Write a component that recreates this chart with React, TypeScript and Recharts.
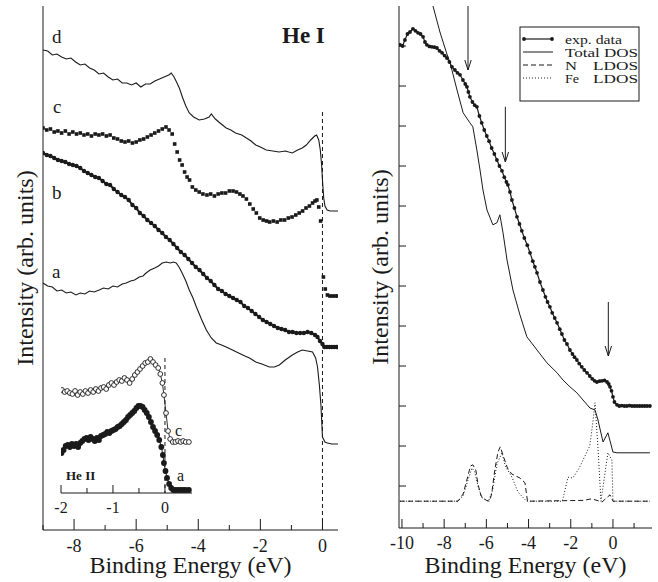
import { Label, Line, LineChart, ReferenceDot, ReferenceLine, XAxis, YAxis } from "recharts";

const FONT = '"Liberation Serif", "Times New Roman", serif';
const INK = "#1a1a1a";

// ---- left panel (He I), energy in eV, intensity in arb. units ----
const leftTicks = [-9, -8, -7, -6, -5, -4, -3, -2, -1, 0];

const curveD: [number, number][] = [
  [-9.0, 48.0], [-8.85, 47.9], [-8.7, 47.5], [-8.55, 47.6], [-8.4, 47.3], [-8.25, 47.1],
  [-8.1, 47.2], [-7.95, 46.8], [-7.8, 46.5], [-7.65, 46.6], [-7.5, 46.2], [-7.35, 46.0],
  [-7.2, 45.6], [-7.05, 45.7], [-6.9, 45.3], [-6.75, 45.0], [-6.6, 45.1], [-6.45, 44.7],
  [-6.3, 44.7], [-6.15, 44.5], [-6.0, 44.7], [-5.85, 44.3], [-5.7, 44.6], [-5.55, 44.6],
  [-5.4, 44.9], [-5.25, 45.1], [-5.1, 45.3], [-4.95, 45.5], [-4.87, 45.7], [-4.78, 45.3],
  [-4.7, 44.8], [-4.61, 44.2], [-4.5, 43.2], [-4.4, 42.4], [-4.29, 41.7], [-4.15, 41.3],
  [-3.97, 41.0], [-3.8, 41.1], [-3.65, 41.3], [-3.58, 41.6], [-3.45, 41.1], [-3.3, 40.7],
  [-3.1, 40.2], [-2.95, 40.0], [-2.8, 39.7], [-2.6, 39.5], [-2.45, 39.2], [-2.3, 38.9],
  [-2.15, 38.5], [-2.0, 38.3], [-1.81, 38.0], [-1.6, 37.9], [-1.4, 37.8], [-1.2, 37.9],
  [-0.97, 37.7], [-0.8, 38.0], [-0.65, 38.2], [-0.52, 38.5], [-0.38, 39.0], [-0.25, 39.4],
  [-0.19, 39.5], [-0.12, 39.0], [-0.07, 38.0], [-0.03, 36.6], [0.0, 35.0], [0.04, 33.2],
  [0.08, 32.4], [0.15, 32.0], [0.25, 31.9], [0.35, 31.9], [0.5, 31.9],
];

const curveC: [number, number][] = [
  [-9.0, 40.2], [-8.88, 40.0], [-8.76, 40.1], [-8.64, 39.8], [-8.52, 39.9], [-8.4, 39.7],
  [-8.28, 39.9], [-8.16, 39.6], [-8.04, 39.8], [-7.92, 39.6], [-7.8, 39.7], [-7.68, 39.5],
  [-7.56, 39.6], [-7.44, 39.4], [-7.32, 39.6], [-7.2, 39.5], [-7.08, 39.6], [-6.96, 39.4],
  [-6.84, 39.5], [-6.72, 39.2], [-6.6, 39.1], [-6.48, 38.9], [-6.36, 38.8], [-6.24, 38.9],
  [-6.12, 38.7], [-6.0, 38.8], [-5.88, 39.0], [-5.76, 39.1], [-5.64, 39.3], [-5.52, 39.5],
  [-5.4, 39.7], [-5.28, 39.9], [-5.16, 40.1], [-5.04, 40.3], [-4.94, 40.0], [-4.84, 39.6],
  [-4.76, 38.6], [-4.68, 37.8], [-4.6, 37.0], [-4.52, 36.5], [-4.44, 35.8], [-4.36, 35.3],
  [-4.28, 35.0], [-4.19, 34.3], [-4.08, 34.0], [-3.97, 33.8], [-3.85, 33.6], [-3.72, 33.5],
  [-3.6, 33.6], [-3.48, 33.4], [-3.36, 33.6], [-3.24, 33.7], [-3.12, 33.7], [-3.0, 33.9],
  [-2.88, 33.9], [-2.77, 33.8], [-2.66, 33.6], [-2.56, 33.4], [-2.45, 33.1], [-2.34, 32.6],
  [-2.23, 32.1], [-2.13, 31.7], [-2.02, 31.2], [-1.91, 31.0], [-1.8, 30.9], [-1.7, 30.8],
  [-1.58, 30.9], [-1.46, 30.8], [-1.34, 31.0], [-1.22, 31.0], [-1.1, 31.2], [-0.98, 31.3],
  [-0.86, 31.5], [-0.75, 31.7], [-0.64, 31.9], [-0.53, 32.2], [-0.42, 32.4], [-0.32, 32.7],
  [-0.24, 32.9], [-0.18, 33.0], [-0.12, 32.3], [-0.06, 30.9], [0.03, 25.3], [0.09, 24.1],
  [0.16, 23.5], [0.24, 23.4], [0.32, 23.4], [0.41, 23.4], [0.49, 23.4],
];

const curveB: [number, number][] = [
  [-9.0, 37.7], [-8.88, 37.5], [-8.76, 37.4], [-8.64, 37.2], [-8.52, 37.0], [-8.4, 36.9],
  [-8.28, 36.8], [-8.16, 36.6], [-8.04, 36.5], [-7.92, 36.4], [-7.8, 36.2], [-7.68, 35.9],
  [-7.56, 35.7], [-7.44, 35.5], [-7.32, 35.3], [-7.2, 35.2], [-7.08, 34.9], [-6.96, 34.6],
  [-6.84, 34.5], [-6.72, 34.1], [-6.6, 33.8], [-6.48, 33.5], [-6.36, 33.3], [-6.24, 33.0],
  [-6.12, 32.5], [-6.0, 32.2], [-5.88, 31.7], [-5.76, 31.4], [-5.64, 31.0], [-5.52, 30.7],
  [-5.4, 30.4], [-5.28, 30.0], [-5.16, 29.7], [-5.04, 29.3], [-4.92, 29.0], [-4.8, 28.6],
  [-4.68, 28.2], [-4.56, 27.8], [-4.44, 27.5], [-4.32, 27.1], [-4.2, 26.7], [-4.08, 26.3],
  [-3.96, 26.0], [-3.84, 25.6], [-3.72, 25.2], [-3.6, 24.9], [-3.48, 24.5], [-3.36, 24.1],
  [-3.24, 23.9], [-3.12, 23.6], [-3.0, 23.4], [-2.88, 23.2], [-2.76, 23.0], [-2.64, 22.8],
  [-2.52, 22.4], [-2.4, 22.2], [-2.28, 21.9], [-2.16, 21.6], [-2.04, 21.3], [-1.92, 21.0],
  [-1.8, 20.8], [-1.68, 20.6], [-1.56, 20.4], [-1.44, 20.2], [-1.32, 20.1], [-1.2, 20.0],
  [-1.08, 19.8], [-0.96, 19.8], [-0.84, 19.7], [-0.72, 19.7], [-0.6, 19.7], [-0.48, 19.8],
  [-0.36, 19.7], [-0.24, 19.5], [-0.16, 19.3], [-0.08, 18.9], [0.0, 18.6], [0.06, 18.3],
  [0.14, 18.3], [0.22, 18.3], [0.3, 18.3], [0.38, 18.3], [0.46, 18.3],
];

const curveA: [number, number][] = [
  [-9.0, 24.7], [-8.85, 24.4], [-8.7, 24.3], [-8.55, 23.9], [-8.4, 24.0], [-8.25, 23.7],
  [-8.1, 23.8], [-7.94, 23.5], [-7.8, 23.7], [-7.65, 23.6], [-7.5, 23.9], [-7.35, 23.8],
  [-7.19, 24.0], [-7.05, 24.2], [-6.9, 24.1], [-6.75, 24.4], [-6.6, 24.3], [-6.45, 24.6],
  [-6.32, 24.7], [-6.18, 24.9], [-6.05, 25.0], [-5.9, 25.3], [-5.78, 25.4], [-5.68, 25.7],
  [-5.55, 26.0], [-5.4, 26.2], [-5.28, 26.4], [-5.16, 26.7], [-5.03, 26.8], [-4.9, 26.7],
  [-4.8, 26.8], [-4.71, 26.7], [-4.62, 26.3], [-4.52, 25.7], [-4.4, 24.9], [-4.29, 24.0],
  [-4.17, 23.2], [-4.06, 22.3], [-3.9, 21.1], [-3.74, 20.0], [-3.58, 19.2], [-3.42, 18.7],
  [-3.25, 18.5], [-3.1, 18.3], [-2.9, 18.0], [-2.7, 17.7], [-2.5, 17.4], [-2.35, 17.2],
  [-2.15, 16.8], [-1.95, 16.6], [-1.71, 16.3], [-1.55, 16.3], [-1.39, 16.5], [-1.2, 17.0],
  [-0.97, 17.5], [-0.8, 17.8], [-0.65, 18.0], [-0.48, 17.9], [-0.32, 17.8], [-0.22, 17.2],
  [-0.16, 16.3], [-0.1, 14.5], [-0.05, 12.5], [-0.02, 10.6], [0.0, 9.3], [0.08, 8.8],
  [0.16, 8.7], [0.3, 8.6], [0.5, 8.6],
];

// ---- inset (He II) ----
const insetTicks = [-2, -1.5, -1, -0.5, 0];

const insetC: [number, number][] = [
  [-1.98, 103], [-1.93, 101], [-1.88, 102], [-1.83, 100], [-1.78, 99], [-1.73, 102],
  [-1.68, 98], [-1.63, 101], [-1.58, 99], [-1.53, 102], [-1.48, 100], [-1.43, 103],
  [-1.38, 101], [-1.33, 104], [-1.28, 102], [-1.23, 105], [-1.18, 106], [-1.13, 104],
  [-1.08, 108], [-1.03, 110], [-0.98, 108], [-0.93, 111], [-0.88, 113], [-0.83, 112],
  [-0.78, 115], [-0.73, 113], [-0.68, 110], [-0.63, 114], [-0.58, 118], [-0.53, 121],
  [-0.48, 124], [-0.43, 127], [-0.38, 130], [-0.33, 131], [-0.28, 134], [-0.23, 131],
  [-0.18, 128], [-0.13, 125], [-0.09, 119], [-0.05, 110], [-0.02, 98], [0.02, 80],
  [0.06, 62], [0.1, 54], [0.15, 51], [0.2, 51], [0.25, 52], [0.3, 51], [0.35, 52],
  [0.4, 51], [0.46, 51],
];

const insetA: [number, number][] = [
  [-1.99, 40], [-1.95, 43], [-1.91, 47], [-1.87, 48], [-1.83, 46], [-1.79, 49],
  [-1.75, 47], [-1.71, 49], [-1.67, 46], [-1.63, 50], [-1.59, 52], [-1.55, 54],
  [-1.51, 55], [-1.47, 53], [-1.43, 56], [-1.39, 54], [-1.35, 52], [-1.31, 55],
  [-1.27, 53], [-1.23, 57], [-1.19, 58], [-1.15, 59], [-1.11, 61], [-1.07, 60],
  [-1.03, 62], [-0.99, 63], [-0.95, 64], [-0.91, 66], [-0.87, 67], [-0.83, 69],
  [-0.79, 71], [-0.75, 73], [-0.71, 76], [-0.67, 78], [-0.63, 80], [-0.59, 82],
  [-0.55, 85], [-0.51, 87], [-0.47, 87], [-0.43, 86], [-0.39, 83], [-0.35, 80],
  [-0.31, 76], [-0.27, 71], [-0.23, 66], [-0.19, 62], [-0.15, 58], [-0.11, 53],
  [-0.07, 46], [-0.04, 38], [-0.02, 30], [0.01, 22], [0.04, 15], [0.08, 9],
  [0.12, 5], [0.16, 3], [0.2, 3], [0.25, 3], [0.3, 3], [0.35, 3], [0.4, 3], [0.46, 3],
];

// ---- right panel: experiment vs. calculated DOS ----
const rightXTicks = [-10, -9, -8, -7, -6, -5, -4, -3, -2, -1, 0, 1];
const rightYTicks = [0, 1, 2, 3, 4, 5, 6, 7, 8, 9, 10, 11];

const expData: [number, number][] = [
  [-10.09, 11.03], [-9.97, 11.0], [-9.86, 11.15], [-9.74, 11.3], [-9.62, 11.35], [-9.48, 11.43],
  [-9.36, 11.38], [-9.24, 11.33], [-9.12, 11.3], [-9.0, 11.23], [-8.91, 11.1], [-8.82, 11.03],
  [-8.7, 10.99], [-8.58, 10.98], [-8.46, 10.97], [-8.34, 10.95], [-8.22, 10.88], [-8.1, 10.83],
  [-7.98, 10.76], [-7.87, 10.7], [-7.75, 10.6], [-7.63, 10.48], [-7.49, 10.4], [-7.37, 10.33],
  [-7.25, 10.28], [-7.11, 10.15], [-7.0, 10.05], [-6.92, 9.98], [-6.85, 9.85], [-6.78, 9.73],
  [-6.66, 9.6], [-6.55, 9.52], [-6.45, 9.48], [-6.33, 9.25], [-6.22, 9.08], [-6.1, 8.9],
  [-5.98, 8.75], [-5.87, 8.62], [-5.75, 8.45], [-5.62, 8.3], [-5.5, 8.15], [-5.38, 8.0],
  [-5.26, 7.88], [-5.15, 7.72], [-5.05, 7.6], [-4.98, 7.53], [-4.88, 7.35], [-4.79, 7.15],
  [-4.67, 6.95], [-4.55, 6.73], [-4.43, 6.55], [-4.32, 6.38], [-4.2, 6.2], [-4.06, 6.02],
  [-3.93, 5.83], [-3.8, 5.62], [-3.7, 5.48], [-3.6, 5.33], [-3.46, 5.1], [-3.32, 4.9],
  [-3.2, 4.73], [-3.1, 4.6], [-2.99, 4.48], [-2.88, 4.33], [-2.76, 4.2], [-2.65, 4.08],
  [-2.52, 3.92], [-2.42, 3.8], [-2.3, 3.65], [-2.18, 3.55], [-2.04, 3.4], [-1.92, 3.3],
  [-1.82, 3.22], [-1.71, 3.15], [-1.6, 3.06], [-1.48, 2.98], [-1.36, 2.9], [-1.23, 2.83],
  [-1.1, 2.75], [-0.98, 2.68], [-0.87, 2.63], [-0.76, 2.6], [-0.64, 2.62], [-0.52, 2.63],
  [-0.4, 2.64], [-0.28, 2.6], [-0.2, 2.55], [-0.14, 2.48], [-0.07, 2.38], [0.0, 2.23],
  [0.07, 2.1], [0.19, 2.03], [0.3, 2.0], [0.42, 2.01], [0.54, 2.0], [0.66, 2.0], [0.78, 2.01],
  [0.9, 2.0], [1.02, 2.0], [1.14, 2.0], [1.26, 2.0], [1.38, 2.0], [1.5, 2.0], [1.62, 2.0], [1.75, 2.0],
];

const totalDos: [number, number][] = [
  [-9.0, 12.85], [-8.53, 12.0], [-8.2, 11.35], [-7.87, 10.8], [-7.72, 10.58], [-7.39, 9.9],
  [-7.1, 9.33], [-6.78, 9.08], [-6.64, 8.98], [-6.45, 8.4], [-6.3, 7.9], [-6.16, 7.4],
  [-5.97, 6.9], [-5.69, 6.53], [-5.5, 6.58], [-5.36, 6.78], [-5.21, 6.33], [-5.02, 5.65],
  [-4.74, 4.9], [-4.41, 4.28], [-4.08, 3.73], [-3.6, 3.4], [-3.13, 3.08], [-2.65, 2.83],
  [-2.37, 2.65], [-2.04, 2.48], [-1.71, 2.33], [-1.42, 2.15], [-1.09, 1.95], [-0.85, 1.9],
  [-0.71, 1.65], [-0.47, 1.1], [-0.24, 1.33], [0.0, 0.85], [0.19, 0.83], [1.75, 0.83],
];

const nLdos: [number, number][] = [
  [-10.1, -0.38], [-7.35, -0.38], [-7.1, -0.2], [-6.9, 0.2], [-6.75, 0.5], [-6.64, 0.53],
  [-6.5, 0.4], [-6.4, 0.05], [-6.25, -0.25], [-6.0, -0.36], [-5.85, -0.38], [-5.75, -0.2],
  [-5.6, 0.4], [-5.45, 0.85], [-5.34, 0.98], [-5.2, 0.75], [-5.0, 0.45], [-4.8, 0.3],
  [-4.41, 0.2], [-4.17, 0.08], [-4.05, -0.38], [-1.4, -0.36], [-1.0, -0.32], [-0.52, -0.4],
  [-0.14, -0.22], [0.0, -0.38], [1.75, -0.38],
];

const feLdos: [number, number][] = [
  [-10.1, -0.38], [-7.35, -0.38], [-7.1, -0.25], [-6.9, 0.1], [-6.68, 0.45], [-6.55, 0.35],
  [-6.4, 0.0], [-6.2, -0.3], [-5.9, -0.38], [-5.7, -0.1], [-5.5, 0.55], [-5.26, 0.83],
  [-5.1, 0.5], [-4.79, 0.22], [-4.5, -0.15], [-4.1, -0.38], [-2.4, -0.38], [-2.13, 0.22],
  [-1.9, 0.2], [-1.6, 0.45], [-1.42, 0.65], [-1.1, 1.0], [-0.95, 1.6], [-0.85, 2.08],
  [-0.71, 0.95], [-0.57, -0.38], [-0.24, 0.83], [-0.05, 0.65], [0.0, -0.38], [1.75, -0.38],
];

// arrows marking features: energy, start and tip intensity
const arrowE = [-6.87, -5.1, -0.22];
const arrowFrom = [12, 9.48, 4.6];
const arrowTo = [10.4, 8.1, 3.25];

const toRows = (pts: [number, number][]) => pts.map(([e, v]) => ({ e, v }));

type Side = "bottom" | "top" | "left" | "right";
const makeTick =
  (side: Side, len: (v: number) => number, label?: (v: number) => string | null, fontSize = 18, gap = 22) =>
  (props: any) => {
    const { x, y, payload, index } = props;
    const v = payload.value as number;
    const l = len(v);
    const x2 = side === "left" ? x + l : side === "right" ? x - l : x;
    const y2 = side === "bottom" ? y - l : side === "top" ? y + l : y;
    const txt = label ? label(v) : null;
    return (
      <g key={`tk-${side}-${index}`}>
        <line x1={x} y1={y} x2={x2} y2={y2} stroke={INK} strokeWidth={1} />
        {txt !== null && (
          <text x={x} y={y + gap} textAnchor="middle" fontSize={fontSize} fontFamily={FONT} fill={INK}>
            {txt}
          </text>
        )}
      </g>
    );
  };

const evenLabel = (v: number) => (v % 2 === 0 ? (v === 0 ? "0" : String(v)) : null);

const filledDot = (r: number) => (p: any) =>
  <circle key={`d-${p.index}`} cx={p.cx} cy={p.cy} r={r} fill={INK} />;
const openDot = (p: any) =>
  <circle key={`o-${p.index}`} cx={p.cx} cy={p.cy} r={2.4} fill="#fff" stroke={INK} strokeWidth={0.9} />;
const squareDot = (p: any) =>
  <rect key={`s-${p.index}`} x={p.cx - 1.8} y={p.cy - 1.8} width={3.6} height={3.6} fill={INK} />;
const arrowHead = (p: any) => (
  <polyline
    points={`${p.cx - 3.2},${p.cy - 10} ${p.cx},${p.cy} ${p.cx + 3.2},${p.cy - 10}`}
    fill="none"
    stroke={INK}
    strokeWidth={1}
  />
);

const axisLine = { stroke: INK, strokeWidth: 1 };

const LeftPanel = () => (
  <LineChart width={345} height={582} margin={{ top: 6, right: 7, bottom: 0, left: 0 }}>
    <XAxis
      type="number"
      dataKey="e"
      domain={[-9, 0.5]}
      allowDataOverflow
      ticks={leftTicks}
      interval={0}
      tickSize={0}
      tickMargin={0}
      tickLine={false}
      axisLine={axisLine}
      height={52}
      tick={makeTick("bottom", (v) => (v % 2 === 0 ? 11 : 5), evenLabel, 18, 22)}
    >
      <Label value="Binding Energy (eV)" position="insideBottom" offset={9} fontSize={24} fontFamily={FONT} fill={INK} />
    </XAxis>
    <XAxis xAxisId="top" type="number" orientation="top" domain={[-9, 0.5]} allowDataOverflow height={0} tick={false} tickLine={false} axisLine={axisLine} />
    <YAxis type="number" domain={[0, 52.4]} allowDataOverflow width={43} tick={false} tickLine={false} axisLine={axisLine}>
      <Label value="Intensity (arb. units)" position="center" angle={-90} dx={3} fontSize={24} fontFamily={FONT} fill={INK} />
    </YAxis>
    <YAxis yAxisId="right" orientation="right" type="number" domain={[0, 52.4]} allowDataOverflow width={0} tick={false} tickLine={false} axisLine={axisLine} />
    <ReferenceLine segment={[{ x: 0, y: 41.8 }, { x: 0, y: 0 }]} stroke={INK} strokeWidth={1} strokeDasharray="4 3" />
    <Line data={toRows(curveD)} dataKey="v" type="linear" stroke={INK} strokeWidth={1.1} dot={false} activeDot={false} isAnimationActive={false} />
    <Line data={toRows(curveC)} dataKey="v" type="linear" stroke="none" dot={squareDot} activeDot={false} isAnimationActive={false} />
    <Line data={toRows(curveB)} dataKey="v" type="linear" stroke={INK} strokeWidth={2} dot={filledDot(2.2)} activeDot={false} isAnimationActive={false} />
    <Line data={toRows(curveA)} dataKey="v" type="linear" stroke={INK} strokeWidth={1.1} dot={false} activeDot={false} isAnimationActive={false} />
  </LineChart>
);

const Inset = () => (
  <LineChart width={161} height={170} margin={{ top: 0, right: 15, bottom: 0, left: 15 }}>
    <XAxis
      type="number"
      dataKey="e"
      domain={[-2, 0.52]}
      allowDataOverflow
      ticks={insetTicks}
      interval={0}
      tickSize={0}
      tickMargin={0}
      tickLine={false}
      axisLine={axisLine}
      height={27}
      tick={makeTick("bottom", (v) => (Number.isInteger(v) ? 8 : 5), (v) => (Number.isInteger(v) ? (v === 0 ? "0" : String(v)) : null), 16, 20)}
    />
    <XAxis xAxisId="top" type="number" orientation="top" domain={[-2, 0.52]} allowDataOverflow height={0} tick={false} tickLine={false} axisLine={axisLine} />
    <YAxis type="number" domain={[0, 143]} allowDataOverflow width={0} tick={false} tickLine={false} axisLine={axisLine} />
    <YAxis yAxisId="right" orientation="right" type="number" domain={[0, 143]} allowDataOverflow width={0} tick={false} tickLine={false} axisLine={axisLine} />
    <ReferenceLine segment={[{ x: 0, y: 135 }, { x: 0, y: 0 }]} stroke={INK} strokeWidth={1} strokeDasharray="4 3" />
    <Line data={toRows(insetC)} dataKey="v" type="linear" stroke={INK} strokeWidth={0.9} dot={openDot} activeDot={false} isAnimationActive={false} />
    <Line data={toRows(insetA)} dataKey="v" type="linear" stroke={INK} strokeWidth={1} dot={filledDot(2.9)} activeDot={false} isAnimationActive={false} />
  </LineChart>
);

const RightPanel = () => (
  <LineChart width={318} height={582} margin={{ top: 6, right: 6, bottom: 0, left: 0 }}>
    <XAxis
      type="number"
      dataKey="e"
      domain={[-10.14, 1.85]}
      allowDataOverflow
      ticks={rightXTicks}
      interval={0}
      tickSize={0}
      tickMargin={0}
      tickLine={false}
      axisLine={axisLine}
      height={54}
      tick={makeTick("bottom", (v) => (v % 2 === 0 ? 9 : 5), (v) => (v <= 0 ? evenLabel(v) : null), 18, 21)}
    >
      <Label value="Binding Energy (eV)" position="insideBottom" offset={9} fontSize={24} fontFamily={FONT} fill={INK} />
    </XAxis>
    <XAxis
      xAxisId="top"
      type="number"
      orientation="top"
      domain={[-10.14, 1.85]}
      allowDataOverflow
      ticks={rightXTicks}
      interval={0}
      tickSize={0}
      tickMargin={0}
      tickLine={false}
      axisLine={axisLine}
      height={0}
      tick={makeTick("top", () => 7)}
    />
    <YAxis
      type="number"
      domain={[-1.05, 12]}
      allowDataOverflow
      ticks={rightYTicks}
      interval={0}
      tickSize={0}
      tickMargin={0}
      tickLine={false}
      axisLine={axisLine}
      width={59}
      tick={makeTick("left", () => 7)}
    >
      <Label value="Intensity (arb. units)" position="center" angle={-90} dx={10} fontSize={24} fontFamily={FONT} fill={INK} />
    </YAxis>
    <YAxis
      yAxisId="right"
      orientation="right"
      type="number"
      domain={[-1.05, 12]}
      allowDataOverflow
      ticks={rightYTicks}
      interval={0}
      tickSize={0}
      tickMargin={0}
      tickLine={false}
      axisLine={axisLine}
      width={0}
      tick={makeTick("right", () => 8)}
    />
    <Line data={toRows(nLdos)} dataKey="v" type="linear" stroke={INK} strokeWidth={1} strokeDasharray="5 3" dot={false} activeDot={false} isAnimationActive={false} />
    <Line data={toRows(feLdos)} dataKey="v" type="linear" stroke={INK} strokeWidth={1} strokeDasharray="1 2" dot={false} activeDot={false} isAnimationActive={false} />
    <Line data={toRows(totalDos)} dataKey="v" type="linear" stroke={INK} strokeWidth={1} dot={false} activeDot={false} isAnimationActive={false} />
    <Line data={toRows(expData)} dataKey="v" type="linear" stroke={INK} strokeWidth={1.2} dot={filledDot(1.9)} activeDot={false} isAnimationActive={false} />
    {arrowE.map((e, i) => (
      <ReferenceLine key={`al-${i}`} segment={[{ x: e, y: arrowFrom[i] }, { x: e, y: arrowTo[i] }]} stroke={INK} strokeWidth={1} />
    ))}
    {arrowE.map((e, i) => (
      <ReferenceDot key={`ah-${i}`} x={e} y={arrowTo[i]} r={3} shape={arrowHead} />
    ))}
  </LineChart>
);

const legendFont = 13.5;

const Overlay = () => (
  <svg width={658} height={582} style={{ position: "absolute", left: 0, top: 0, pointerEvents: "none" }} fontFamily={FONT} fill={INK}>
    <text x={52} y={43} fontSize={19}>d</text>
    <text x={53} y={113} fontSize={19}>c</text>
    <text x={52} y={199} fontSize={19}>b</text>
    <text x={52} y={278} fontSize={19}>a</text>
    <text x={282} y={43} fontSize={23} fontWeight="bold">He I</text>
    <text x={66} y={480} fontSize={13} fontWeight="bold">He II</text>
    <text x={175} y={436} fontSize={16}>c</text>
    <text x={177} y={481} fontSize={16}>a</text>
    {/* legend */}
    <rect x={520} y={27} width={119} height={74} fill="#fff" stroke={INK} strokeWidth={1} />
    <line x1={523} y1={39} x2={553} y2={39} stroke={INK} strokeWidth={1.2} />
    <circle cx={524} cy={39} r={1.9} />
    <circle cx={552} cy={39} r={1.9} />
    <line x1={523} y1={52} x2={553} y2={52} stroke={INK} strokeWidth={1} />
    <line x1={523} y1={65} x2={553} y2={65} stroke={INK} strokeWidth={1} strokeDasharray="5 3" />
    <line x1={523} y1={78} x2={553} y2={78} stroke={INK} strokeWidth={1} strokeDasharray="1 2" />
    <text x={565} y={43.5} fontSize={legendFont} textLength={57} lengthAdjust="spacingAndGlyphs">exp. data</text>
    <text x={565} y={56.5} fontSize={legendFont} textLength={73} lengthAdjust="spacingAndGlyphs">Total DOS</text>
    <text x={565} y={69.5} fontSize={legendFont} textLength={12} lengthAdjust="spacingAndGlyphs">N</text>
    <text x={593} y={69.5} fontSize={legendFont} textLength={45} lengthAdjust="spacingAndGlyphs">LDOS</text>
    <text x={565} y={82.5} fontSize={legendFont} textLength={14} lengthAdjust="spacingAndGlyphs">Fe</text>
    <text x={593} y={82.5} fontSize={legendFont} textLength={45} lengthAdjust="spacingAndGlyphs">LDOS</text>
  </svg>
);

export default function App() {
  return (
    <div style={{ position: "absolute", left: 0, top: 0, width: 658, height: 582, background: "#fff", fontFamily: FONT }}>
      <div style={{ position: "absolute", left: 0, top: 0 }}>
        <LeftPanel />
      </div>
      <div style={{ position: "absolute", left: 61, top: 350, width: 131, height: 143, background: "#fff" }} />
      <div style={{ position: "absolute", left: 46, top: 350 }}>
        <Inset />
      </div>
      <div style={{ position: "absolute", left: 340, top: 0 }}>
        <RightPanel />
      </div>
      <Overlay />
    </div>
  );
}
